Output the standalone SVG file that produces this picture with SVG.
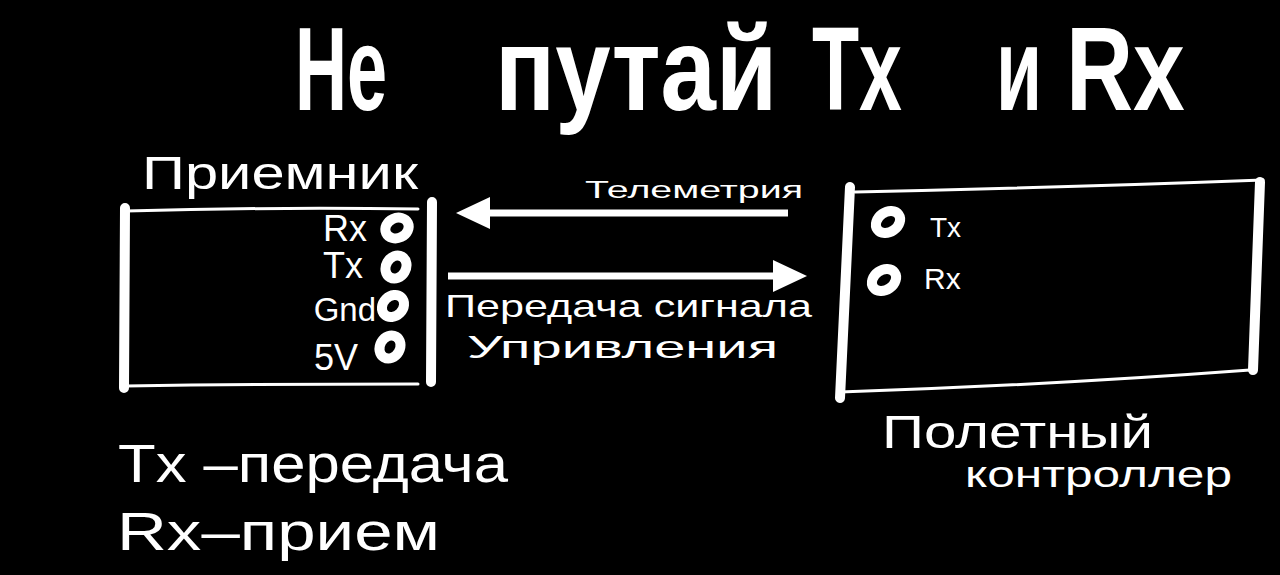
<svg xmlns="http://www.w3.org/2000/svg" width="1280" height="575" viewBox="0 0 1280 575">
<defs>
<style>
.bg{fill:#000}
.t{fill:#fff;font-family:"Liberation Sans","DejaVu Sans",sans-serif}
.title{font-size:118px;font-weight:bold}
.hand{font-weight:normal}
.bar{stroke:#fff;stroke-width:10;stroke-linecap:round;fill:none}
.edge{stroke:#fff;stroke-width:3;stroke-linecap:round;fill:none}
.pin{fill:none;stroke:#fff;stroke-width:10}
.arrow{stroke:#fff;stroke-width:7;fill:none;marker-end:url(#head)}
</style>
<marker id="head" markerUnits="userSpaceOnUse" markerWidth="34" markerHeight="32" refX="0" refY="16" orient="auto">
<path d="M0,0 L34,16 L0,32 z" fill="#fff"/>
</marker>
</defs>
<rect class="bg" x="0" y="0" width="1280" height="575"/>

<g id="title">
<text class="t title" transform="translate(295,110) scale(0.72,1)" x="0" y="0" textLength="128" lengthAdjust="spacingAndGlyphs">Не</text>
<text class="t title" transform="translate(495,110) scale(0.72,1)" x="0" y="0" textLength="392" lengthAdjust="spacingAndGlyphs">путай</text>
<text class="t title" transform="translate(812,110) scale(0.72,1)" x="0" y="0" textLength="125" lengthAdjust="spacingAndGlyphs">Tx</text>
<text class="t title" transform="translate(996,110) scale(0.72,1)" x="0" y="0" textLength="64" lengthAdjust="spacingAndGlyphs">и</text>
<text class="t title" transform="translate(1066,110) scale(0.72,1)" x="0" y="0" textLength="165" lengthAdjust="spacingAndGlyphs">Rx</text>
</g>

<g id="node-receiver">
<text class="t hand" x="142" y="189" font-size="46" textLength="276" lengthAdjust="spacingAndGlyphs">Приемник</text>
<path class="edge" d="M126,211 Q270,207 418,209"/>
<path class="edge" d="M126,386 Q270,384 418,384"/>
<path class="bar" d="M125,208 L124,388"/>
<path class="bar" d="M432,202 L431,382"/>
<text class="t hand" x="367" y="241" font-size="36" text-anchor="end">Rx</text>
<text class="t hand" x="363" y="278" font-size="36" text-anchor="end">Tx</text>
<text class="t hand" x="376" y="321" font-size="33" text-anchor="end">Gnd</text>
<text class="t hand" x="358" y="370" font-size="36" text-anchor="end">5V</text>
<ellipse class="pin" cx="397" cy="228" rx="12" ry="10" transform="rotate(-25 397 228)"/>
<ellipse class="pin" cx="396" cy="267" rx="12" ry="10" transform="rotate(-60 396 267)"/>
<ellipse class="pin" cx="393" cy="306" rx="12" ry="10" transform="rotate(-45 393 306)"/>
<ellipse class="pin" cx="390" cy="347" rx="12" ry="10" transform="rotate(-60 390 347)"/>
</g>

<g id="node-flight-controller">
<path class="edge" d="M855,192 Q1050,188 1263,180"/>
<path class="edge" d="M840,392 Q1050,385 1250,370"/>
<path class="bar" d="M850,187 L840,398"/>
<path class="bar" d="M1260,182 L1253,370"/>
<ellipse class="pin" cx="888" cy="222" rx="13" ry="10" transform="rotate(-35 888 222)"/>
<ellipse class="pin" cx="884" cy="280" rx="13" ry="10" transform="rotate(-35 884 280)"/>
<text class="t hand" x="930" y="237" font-size="28">Tx</text>
<text class="t hand" x="924" y="289" font-size="30">Rx</text>
<text class="t hand" x="882" y="448" font-size="46" textLength="271" lengthAdjust="spacingAndGlyphs">Полетный</text>
<text class="t hand" x="965" y="487" font-size="36" textLength="267" lengthAdjust="spacingAndGlyphs">контроллер</text>
</g>

<g id="connectors">
<line class="arrow" x1="788" y1="213" x2="490" y2="213"/>
<line class="arrow" x1="448" y1="276" x2="773" y2="276"/>
<text class="t hand" x="585" y="198" font-size="24" textLength="218" lengthAdjust="spacingAndGlyphs">Телеметрия</text>
<text class="t hand" x="445" y="317" font-size="32" textLength="367" lengthAdjust="spacingAndGlyphs">Передача сигнала</text>
<text class="t hand" x="467" y="358" font-size="32" textLength="311" lengthAdjust="spacingAndGlyphs">Упривления</text>
</g>

<g id="legend">
<text class="t hand" x="118" y="482" font-size="54" textLength="390" lengthAdjust="spacingAndGlyphs">Tx –передача</text>
<text class="t hand" x="117" y="550" font-size="54" textLength="323" lengthAdjust="spacingAndGlyphs">Rx–прием</text>
</g>
</svg>
